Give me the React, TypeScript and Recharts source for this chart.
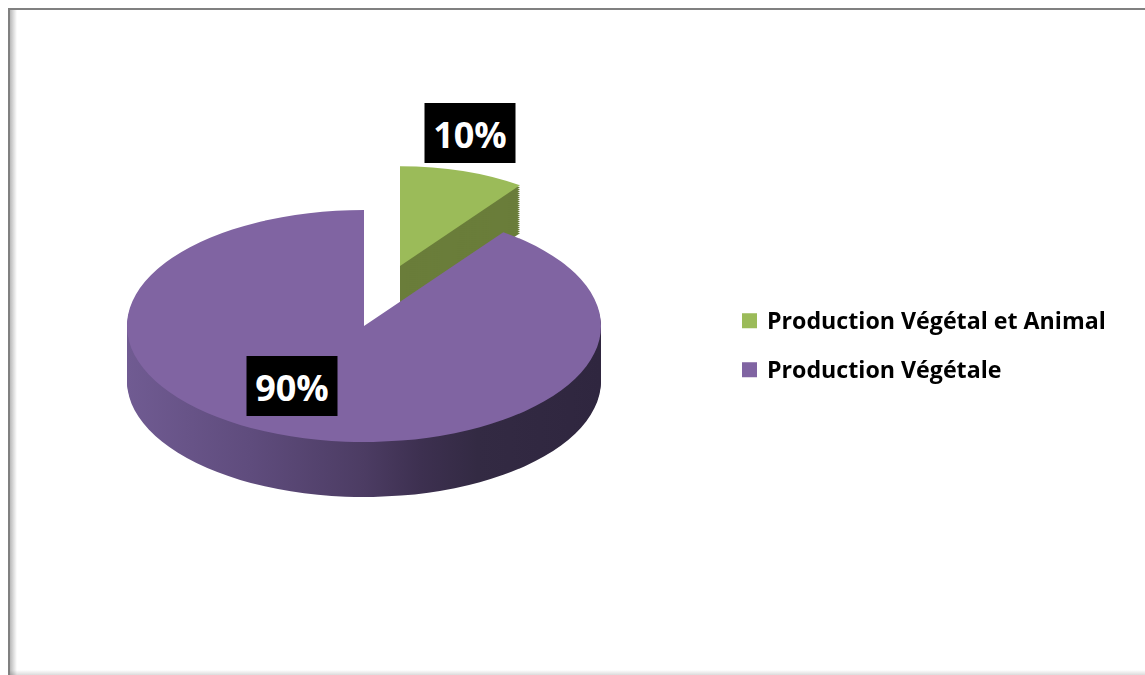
import { PieChart, Pie, Cell, Legend } from "recharts";

// share of farms by production type (percent)
const names = ["Production Végétal et Animal", "Production Végétale"];
const shares = [10, 90];
const topColors = ["#9bbb59", "#8064a2"];
const wallColors = ["#6a7d3a", "url(#purpleWall)"];

const data = names.map((name, i) => ({ name, value: shares[i] }));

// fake 3D: the pie is drawn flat then squashed vertically by K
const K = 116 / 237;
const OX = 10;
const OY = 10;
const sx = (X: number) => X - OX;
const sy = (Y: number) => (Y - OY) / K;

const FONT = "'Open Sans', Lato, sans-serif";

// screen geometry of each slice: center, radius, thickness, label offset
const slices = [
  { cx: 400, cy: 266, r: 204, depth: 48, lab: [70, -133] },
  { cx: 364, cy: 326, r: 237, depth: 55, lab: [-72, 60] },
];

const LabelBox = ({ x, y, text }: { x: number; y: number; text: string }) => (
  <g transform={`translate(${x},${y}) scale(1,${1 / K})`}>
    <rect x={-45.5} y={-30} width={91} height={60} fill="#000" />
    <text
      x={0}
      y={1}
      textAnchor="middle"
      dominantBaseline="central"
      fill="#fff"
      fontFamily={FONT}
      fontWeight={700}
      fontSize={36}
    >
      {text}
    </text>
  </g>
);

function slicePie(key: string, idx: number, shift: number, fill: string, withLabel: boolean) {
  const s = slices[idx];
  const label = withLabel
    ? (p: any) =>
        p.index === idx ? (
          <LabelBox
            x={p.cx + s.lab[0]}
            y={p.cy + s.lab[1] / K}
            text={`${Math.round(p.percent * 100)}%`}
          />
        ) : null
    : false;
  return (
    <Pie
      key={key}
      data={data}
      dataKey="value"
      nameKey="name"
      cx={sx(s.cx)}
      cy={sy(s.cy) + shift}
      outerRadius={s.r}
      startAngle={90}
      endAngle={-270}
      stroke="none"
      label={label as any}
      labelLine={false}
      legendType="none"
      isAnimationActive={false}
    >
      {data.map((_, j) => (
        <Cell key={j} fill={j === idx ? fill : "transparent"} />
      ))}
    </Pie>
  );
}

function layers(idx: number) {
  const s = slices[idx];
  const n = Math.round(s.depth / 2);
  const out = [];
  for (let i = n; i >= 1; i--) {
    out.push(slicePie(`w${idx}-${i}`, idx, ((s.depth * i) / n) / K, wallColors[idx], false));
  }
  out.push(slicePie(`t${idx}`, idx, 0, topColors[idx], true));
  return out;
}

const LegendBox = () => (
  <div
    style={{
      position: "relative",
      width: 380,
      height: 90,
      fontFamily: FONT,
      fontWeight: 700,
      fontSize: 23.2,
      color: "#000",
      fontVariantLigatures: "none",
    }}
  >
    {names.map((n, i) => (
      <div key={n}>
        <span
          style={{
            position: "absolute",
            left: 0,
            top: 13 + i * 49,
            width: 15,
            height: 15,
            background: topColors[i],
          }}
        />
        <span
          style={{
            position: "absolute",
            left: 25,
            top: 7.5 + i * 49.5,
            lineHeight: "24px",
            whiteSpace: "nowrap",
          }}
        >
          {n}
        </span>
      </div>
    ))}
  </div>
);

export default function App() {
  const W = 1120;
  const H = 667 / K;
  return (
    <div
      style={{
        position: "fixed",
        left: 8,
        top: 8,
        width: 1140,
        height: 667,
        borderTop: "2px solid #808080",
        borderLeft: "2px solid #808080",
        overflow: "hidden",
        background:
          "linear-gradient(to right, rgba(0,0,0,0.28), rgba(0,0,0,0)) left top / 7px 100% no-repeat, linear-gradient(to top, rgba(0,0,0,0.2), rgba(0,0,0,0)) left bottom / 100% 7px no-repeat, #fff",
      }}
    >
      <div
        style={{
          position: "absolute",
          left: 0,
          top: 0,
          width: W,
          height: H,
          overflow: "hidden",
          transform: `scaleY(${K})`,
          transformOrigin: "0 0",
        }}
      >
        <PieChart width={W} height={H} margin={{ top: 0, right: 0, bottom: 0, left: 0 }}>
          <defs>
            <linearGradient id="purpleWall" x1="0" y1="0" x2="1" y2="0">
              <stop offset="0%" stopColor="#705b92" />
              <stop offset="26%" stopColor="#5f4c7d" />
              <stop offset="50%" stopColor="#4c3c63" />
              <stop offset="62%" stopColor="#3d3050" />
              <stop offset="74%" stopColor="#332a43" />
              <stop offset="100%" stopColor="#2f263f" />
            </linearGradient>
          </defs>
          {layers(0)}
          {layers(1)}
          <Legend
            layout="vertical"
            align="right"
            verticalAlign="middle"
            content={() => <LegendBox />}
            wrapperStyle={{
              left: sx(742),
              top: sy(300),
              width: 380,
              height: 90,
              transform: `scaleY(${1 / K})`,
              transformOrigin: "0 0",
            }}
          />
        </PieChart>
      </div>
    </div>
  );
}
